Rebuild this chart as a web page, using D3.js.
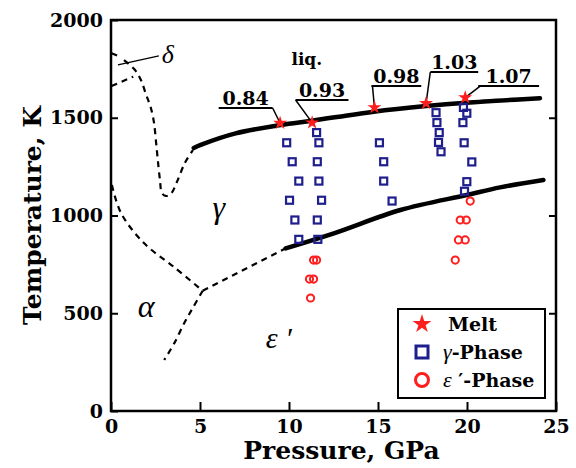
<!DOCTYPE html>
<html>
<head>
<meta charset="utf-8">
<script src="https://cdn.jsdelivr.net/npm/d3@7"></script>
<style>
  body { margin: 0; background: #fff; }
  svg { display: block; }
  .tick text { font-family: "DejaVu Serif", serif; font-weight: bold; font-size: 19px; fill: #000; }
  .greek { font-family: "Liberation Serif", serif; font-style: italic; }
  .bold { font-family: "DejaVu Serif", serif; font-weight: bold; }
</style>
</head>
<body>
<div id="chart"></div>
<script>
// axis ticks
const xTicks = [0, 5, 10, 15, 20, 25];
const yTicks = [0, 500, 1000, 1500, 2000];

// melting points (stars) and the ratio labels above them
const meltP = [9.5, 11.3, 14.8, 17.7, 19.9];
const meltT = [1473, 1475, 1553, 1574, 1603];
const meltLabel = ["0.84", "0.93", "0.98", "1.03", "1.07"];
const labelP0 = [6.05, 10.37, 14.63, 17.94, 20.63];
const labelP1 = [9.08, 13.34, 17.43, 20.63, 24.05];
const labelT = [1550, 1591, 1662, 1734, 1662];
const leaderP = [9.08, 10.37, 14.69, 17.94, 20.74];

// gamma-phase observations (squares)
const gammaP = [9.87, 10.18, 10.55, 10.03, 10.33, 10.55,
                11.55, 11.68, 11.59, 11.68, 11.83, 11.59, 11.62,
                15.08, 15.32, 15.32, 15.79,
                18.26, 18.31, 18.44, 18.40, 18.54,
                19.80, 19.99, 19.77, 19.84, 20.27, 19.99, 19.86];
const gammaT = [1372, 1275, 1176, 1078, 977, 878,
                1424, 1372, 1275, 1176, 1078, 977, 878,
                1372, 1275, 1176, 1074,
                1526, 1475, 1424, 1374, 1326,
                1553, 1523, 1475, 1372, 1274, 1173, 1124];

// epsilon'-phase observations (circles)
const epsP = [11.38, 11.55, 11.15, 11.38, 11.21, 20.18, 19.62, 19.96, 19.52, 19.90, 19.34];
const epsT = [772, 772, 675, 675, 578, 1074, 977, 977, 875, 875, 772];

// phase boundaries [P, T]
const meltCurve = [[4.65, 1345], [5.04, 1361], [7.0, 1420], [9.53, 1463], [11.31, 1485],
                   [14.76, 1531], [17.71, 1560], [19.94, 1577], [24.1, 1600]];
const solvus = [[9.81, 832], [12.52, 909], [16.26, 1028], [19.99, 1105], [21.86, 1144], [24.29, 1182]];
const gammaEps = [[5.15, 615], [9.81, 832]];
const alphaGamma = [[0.05, 1156], [0.56, 1013], [1.85, 859], [3.53, 737], [5.15, 615]];
const alphaEps = [[5.15, 615], [4.58, 525], [4.11, 449], [3.55, 346], [2.99, 261]];
const gammaLoop = [[0.73, 1795], [1.35, 1744], [1.68, 1693], [1.96, 1621], [2.24, 1550],
                   [2.41, 1478], [2.52, 1386], [2.63, 1284], [2.75, 1182], [2.86, 1115],
                   [3.08, 1100], [3.36, 1110], [3.70, 1171], [4.15, 1269], [4.60, 1335]];
const deltaGamma = [[0.03, 1662], [1.25, 1710]];
const liqDelta = [[0.03, 1830], [0.4, 1816]];
const deltaPointer = [[0.39, 1770], [2.69, 1816]];

const W = 576, H = 468;
const svg = d3.select('#chart').append('svg').attr('width', W).attr('height', H);

const x = d3.scaleLinear().domain([0, 25]).range([111, 556]);
const y = d3.scaleLinear().domain([0, 2000]).range([411, 20]);

// axes with inward ticks
svg.append('g')
    .attr('transform', `translate(0,${y(0)})`)
    .call(d3.axisBottom(x).tickValues(xTicks).tickFormat(d3.format('d'))
        .tickSizeInner(-9).tickSizeOuter(0).tickPadding(9))
    .call(g => g.select('.domain').remove())
    .selectAll('line').attr('stroke-width', 2);

svg.append('g')
    .attr('transform', `translate(${x(0)},0)`)
    .call(d3.axisLeft(y).tickValues(yTicks).tickFormat(d3.format('d'))
        .tickSizeInner(-7).tickSizeOuter(0).tickPadding(8))
    .call(g => g.select('.domain').remove())
    .selectAll('line').attr('stroke-width', 2);

svg.append('g')
    .attr('transform', `translate(${x(25)},0)`)
    .call(d3.axisRight(y).tickValues(yTicks.slice(1, -1)).tickSizeInner(-7).tickSizeOuter(0).tickFormat(''))
    .call(g => g.select('.domain').remove())
    .selectAll('line').attr('stroke-width', 2);

svg.append('rect')
    .attr('x', x(0)).attr('y', y(2000))
    .attr('width', x(25) - x(0)).attr('height', y(0) - y(2000))
    .attr('fill', 'none').attr('stroke', '#000').attr('stroke-width', 2.5);

// axis titles
svg.append('text').attr('class', 'bold')
    .attr('x', (x(0) + x(25)) / 2 + 8).attr('y', 459)
    .attr('text-anchor', 'middle').attr('font-size', 25)
    .text('Pressure, GPa');

svg.append('text').attr('class', 'bold')
    .attr('transform', `translate(41,${(y(0) + y(2000)) / 2}) rotate(-90)`)
    .attr('text-anchor', 'middle').attr('font-size', 25)
    .text('Temperature, K');

// phase boundaries
const line = d3.line().x(d => x(d[0])).y(d => y(d[1]));
const smooth = d3.line().x(d => x(d[0])).y(d => y(d[1])).curve(d3.curveCatmullRom);

function dashed(pts, curve) {
    svg.append('path').datum(pts)
        .attr('d', curve ? smooth : line)
        .attr('fill', 'none').attr('stroke', '#000')
        .attr('stroke-width', 2.2).attr('stroke-dasharray', '6,5');
}
dashed(gammaEps, false);
dashed(alphaGamma, true);
dashed(alphaEps, true);
dashed(gammaLoop, true);
dashed(deltaGamma, false);
dashed(liqDelta, false);

svg.append('path').datum(deltaPointer).attr('d', line)
    .attr('fill', 'none').attr('stroke', '#000').attr('stroke-width', 1.3);

svg.append('path').datum(meltCurve).attr('d', smooth)
    .attr('fill', 'none').attr('stroke', '#000').attr('stroke-width', 4.5).attr('stroke-linecap', 'round');
svg.append('path').datum(solvus).attr('d', smooth)
    .attr('fill', 'none').attr('stroke', '#000').attr('stroke-width', 4.5).attr('stroke-linecap', 'round');

// region labels
const regions = [
    { t: 'γ', p: 5.7, T: 985, s: 32 },
    { t: 'α', p: 1.5, T: 480, s: 32 },
    { t: 'ε \u2032', p: 8.7, T: 320, s: 30 },
    { t: 'δ', p: 2.85, T: 1778, s: 26 }
];
svg.selectAll('.region').data(regions).enter().append('text')
    .attr('class', 'greek')
    .attr('x', d => x(d.p)).attr('y', d => y(d.T))
    .attr('font-size', d => d.s)
    .text(d => d.t);

svg.append('text').attr('class', 'bold')
    .attr('x', x(11.0)).attr('y', y(1770)).attr('text-anchor', 'middle')
    .attr('font-size', 17).text('liq.');

// melt labels with underline and leader
const idx = d3.range(meltP.length);
svg.selectAll('.ul').data(idx).enter().append('line')
    .attr('x1', i => x(labelP0[i])).attr('x2', i => x(labelP1[i]))
    .attr('y1', i => y(labelT[i])).attr('y2', i => y(labelT[i]))
    .attr('stroke', '#000').attr('stroke-width', 2);
svg.selectAll('.leader').data(idx).enter().append('line')
    .attr('x1', i => x(leaderP[i])).attr('y1', i => y(labelT[i]))
    .attr('x2', i => x(meltP[i])).attr('y2', i => y(meltT[i]))
    .attr('stroke', '#000').attr('stroke-width', 1.5);
svg.selectAll('.mlabel').data(idx).enter().append('text')
    .attr('class', 'bold')
    .attr('x', i => (x(labelP0[i]) + x(labelP1[i])) / 2)
    .attr('y', i => y(labelT[i]) - 3)
    .attr('text-anchor', 'middle').attr('font-size', 19)
    .text(i => meltLabel[i]);

// data markers
const red = '#ff1e1e', navy = '#1e1e8c';
svg.selectAll('.sq').data(gammaP).enter().append('rect')
    .attr('x', (d, i) => x(d) - 3.5).attr('y', (d, i) => y(gammaT[i]) - 3.5)
    .attr('width', 7).attr('height', 7)
    .attr('fill', 'none').attr('stroke', navy).attr('stroke-width', 2.2);
svg.selectAll('.ci').data(epsP).enter().append('circle')
    .attr('cx', d => x(d)).attr('cy', (d, i) => y(epsT[i])).attr('r', 3.6)
    .attr('fill', 'none').attr('stroke', red).attr('stroke-width', 2);
svg.selectAll('.st').data(meltP).enter().append('path')
    .attr('d', d3.symbol(d3.symbolStar, 60))
    .attr('transform', (d, i) => `translate(${x(d)},${y(meltT[i])})`)
    .attr('fill', red);

// legend
const lg = svg.append('g');
lg.append('rect').attr('x', 398).attr('y', 309).attr('width', 147).attr('height', 89)
    .attr('fill', '#fff').attr('stroke', '#000').attr('stroke-width', 2);
lg.append('path').attr('d', d3.symbol(d3.symbolStar, 110)).attr('transform', 'translate(422,324)').attr('fill', red);
lg.append('rect').attr('x', 416).attr('y', 346).attr('width', 12).attr('height', 12)
    .attr('fill', 'none').attr('stroke', navy).attr('stroke-width', 3);
lg.append('circle').attr('cx', 422).attr('cy', 380).attr('r', 6.5)
    .attr('fill', 'none').attr('stroke', red).attr('stroke-width', 3);

lg.append('text').attr('class', 'bold').attr('x', 448).attr('y', 331).attr('font-size', 19).text('Melt');
const t2 = lg.append('text').attr('x', 443).attr('y', 359).attr('font-size', 19);
t2.append('tspan').attr('class', 'greek').attr('font-size', 22).text('γ');
t2.append('tspan').attr('class', 'bold').text('-Phase');
const t3 = lg.append('text').attr('x', 443).attr('y', 387).attr('font-size', 19);
t3.append('tspan').attr('class', 'greek').attr('font-size', 22).text('ε');
t3.append('tspan').attr('class', 'bold').text(' \u2032-Phase');
</script>
</body>
</html>
